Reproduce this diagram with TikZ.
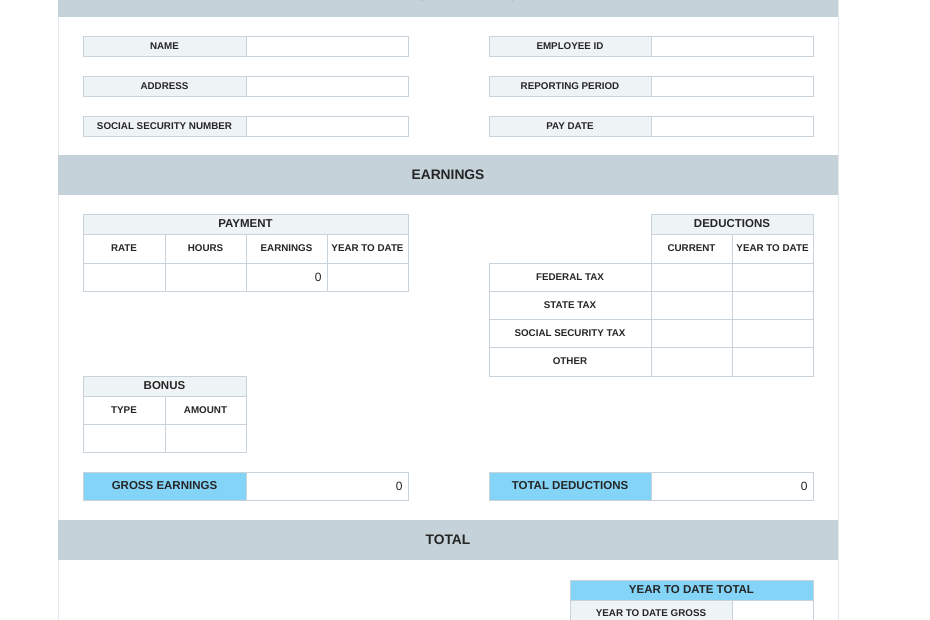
\documentclass[tikz,border=0pt]{standalone}
\usepackage{fontspec}
\setmainfont{Liberation Sans}
\definecolor{bar}{HTML}{C5D2DA}
\definecolor{lab}{HTML}{EEF3F6}
\definecolor{blu}{HTML}{84D4F8}
\definecolor{bd}{HTML}{C9D3DB}
\definecolor{pg}{HTML}{E3E8EC}
\tikzset{
 cell/.style={draw=bd,line width=0.8pt},
 t/.style={font=\bfseries\fontsize{9.8}{11}\selectfont,text=black!85},
 tb/.style={font=\bfseries\fontsize{11.5}{13}\selectfont,text=black!85},
 n/.style={font=\fontsize{12}{13}\selectfont,text=black!85},
 h/.style={font=\bfseries\fontsize{13.8}{15}\selectfont,text=black!85},
}
\newcommand\cel[7]{\filldraw[cell,fill=#5] (#1,#2) rectangle (#3,#4);
 \node[#7] at ({(#1+#3)/2},{(#2+#4)/2}) {#6};}
\newcommand\num[4]{\node[n,anchor=east] at (#3-2,{(#2+#4)/2}) {#1};}
\begin{document}
\begin{tikzpicture}[x=1pt,y=-1pt]
\useasboundingbox (0,0) rectangle (930,620);
\fill[white] (0,0) rectangle (930,620);
\draw[pg,line width=1pt] (58,-2) -- (58,622) (838,-2) -- (838,622);
\fill[bar] (58,0) rectangle (838,17);
\node[h,anchor=center] (ed) at (448,-4) {EMPLOYEE DETAILS};
\fill[bar] (58,155) rectangle (838,195);
\node[h] (earn) at (448,175) {EARNINGS};
\fill[bar] (58,520) rectangle (838,560);
\node[h] (tot) at (448,540) {TOTAL};
\cel{83}{36}{246}{56}{lab}{NAME}{t}
\cel{246}{36}{408}{56}{white}{}{t}
\cel{83}{76}{246}{96}{lab}{ADDRESS}{t}
\cel{246}{76}{408}{96}{white}{}{t}
\cel{83}{116}{246}{136}{lab}{SOCIAL SECURITY NUMBER}{t}
\cel{246}{116}{408}{136}{white}{}{t}
\cel{489}{36}{651}{56}{lab}{EMPLOYEE ID}{t}
\cel{651}{36}{813}{56}{white}{}{t}
\cel{489}{76}{651}{96}{lab}{REPORTING PERIOD}{t}
\cel{651}{76}{813}{96}{white}{}{t}
\cel{489}{116}{651}{136}{lab}{PAY DATE}{t}
\cel{651}{116}{813}{136}{white}{}{t}
\cel{83}{214}{408}{234}{lab}{PAYMENT}{tb}
\cel{83}{234}{165}{263}{white}{RATE}{t}
\cel{165}{234}{246}{263}{white}{HOURS}{t}
\cel{246}{234}{327}{263}{white}{EARNINGS}{t}
\cel{327}{234}{408}{263}{white}{YEAR TO DATE}{t}
\cel{83}{263}{165}{291}{white}{}{t}
\cel{165}{263}{246}{291}{white}{}{t}
\cel{246}{263}{327}{291}{white}{}{t}
\cel{327}{263}{408}{291}{white}{}{t}
\num{0}{263}{327}{291}
\cel{651}{214}{813}{234}{lab}{DEDUCTIONS}{tb}
\cel{651}{234}{732}{263}{white}{CURRENT}{t}
\cel{732}{234}{813}{263}{white}{YEAR TO DATE}{t}
\cel{489}{263}{651}{291}{white}{FEDERAL TAX}{t}
\cel{489}{291}{651}{319}{white}{STATE TAX}{t}
\cel{489}{319}{651}{347}{white}{SOCIAL SECURITY TAX}{t}
\cel{489}{347}{651}{376}{white}{OTHER}{t}
\foreach \a/\b in {263/291,291/319,319/347,347/376}{
 \draw[cell] (651,\a) rectangle (732,\b);
 \draw[cell] (732,\a) rectangle (813,\b);}
\cel{83}{376}{246}{396}{lab}{BONUS}{tb}
\cel{83}{396}{165}{424}{white}{TYPE}{t}
\cel{165}{396}{246}{424}{white}{AMOUNT}{t}
\cel{83}{424}{165}{452}{white}{}{t}
\cel{165}{424}{246}{452}{white}{}{t}
\cel{83}{472}{246}{500}{blu}{GROSS EARNINGS}{tb}
\cel{246}{472}{408}{500}{white}{}{t}
\num{0}{472}{408}{500}
\cel{489}{472}{651}{500}{blu}{TOTAL DEDUCTIONS}{tb}
\cel{651}{472}{813}{500}{white}{}{t}
\num{0}{472}{813}{500}
\cel{570}{580}{813}{600}{blu}{YEAR TO DATE TOTAL}{tb}
\filldraw[cell,fill=lab] (570,600) rectangle (732,628);
\node[t] at (651,613) {YEAR TO DATE GROSS};
\draw[cell] (732,600) rectangle (813,628);
\end{tikzpicture}
\end{document}
